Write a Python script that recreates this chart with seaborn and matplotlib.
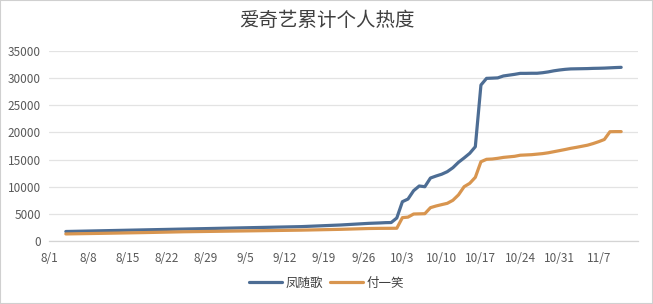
import matplotlib
matplotlib.use("Agg")
import matplotlib.pyplot as plt
from matplotlib.patches import Rectangle
import seaborn as sns
import pandas as pd

# ---- data ----
dates = [
    "8/4", "8/11", "8/18", "8/25", "9/1", "9/8", "9/15", "9/22", "9/27", "9/29",
    "9/30",
    "10/1", "10/2", "10/3", "10/4", "10/5", "10/6", "10/7", "10/8", "10/9", "10/10",
    "10/11", "10/12", "10/13", "10/14", "10/15", "10/16", "10/17", "10/18", "10/19", "10/20",
    "10/21", "10/22", "10/23", "10/24", "10/25", "10/26", "10/27", "10/28", "10/29", "10/30",
    "10/31", "11/1", "11/2", "11/3", "11/4", "11/5", "11/6", "11/7", "11/8", "11/9",
    "11/10", "11/11",
]
feng_sui_ge = [
    1750, 1900, 2050, 2200, 2350, 2500, 2650, 2950, 3250, 3330,
    3380,
    3400, 4240, 7240, 7730, 9270, 10130, 10000, 11600, 11970, 12300,
    12770, 13500, 14500, 15300, 16150, 17370, 28730, 29960, 30000, 30050,
    30400, 30550, 30700, 30880, 30880, 30900, 30900, 31000, 31150, 31350,
    31500, 31620, 31700, 31720, 31740, 31760, 31800, 31820, 31850, 31900,
    31950, 31990,
]
fu_yi_xiao = [
    1300, 1420, 1550, 1700, 1800, 1900, 2000, 2150, 2300, 2330,
    2335,
    2340, 2350, 4300, 4400, 4970, 5000, 5030, 6140, 6450, 6700,
    6940, 7500, 8500, 10000, 10620, 11730, 14600, 15050, 15100, 15230,
    15400, 15500, 15600, 15800, 15850, 15900, 16000, 16100, 16250, 16450,
    16650, 16850, 17070, 17250, 17450, 17650, 17950, 18300, 18700, 20130,
    20150, 20150,
]
series_names = ["凤随歌", "付一笑"]
colors = ["#4d6d94", "#d8954f"]
title = "爱奇艺累计个人热度"
tick_dates = ["8/1", "8/8", "8/15", "8/22", "8/29", "9/5", "9/12", "9/19",
              "9/26", "10/3", "10/10", "10/17", "10/24", "10/31", "11/7"]
y_ticks = [0, 5000, 10000, 15000, 20000, 25000, 30000, 35000]

def to_dt(s):
    return pd.to_datetime("2023/" + s, format="%Y/%m/%d")

dt = [to_dt(s) for s in dates]
df = pd.DataFrame({
    "date": dt * 2,
    "value": feng_sui_ge + fu_yi_xiao,
    "name": [series_names[0]] * len(dt) + [series_names[1]] * len(dt),
})

sns.set_theme(style="white")
plt.rcParams["font.family"] = ["Noto Sans CJK SC", "DejaVu Sans"]

fig = plt.figure(figsize=(6.53, 3.04), dpi=100)
ax = fig.add_axes([49 / 653, 1 - 241 / 304, (638 - 49) / 653, (241 - 51) / 304])

sns.lineplot(data=df, x="date", y="value", hue="name", palette=colors,
             hue_order=series_names, linewidth=2.3, ax=ax, legend=False)

ax.set_ylim(0, 35000)
ax.set_yticks(y_ticks)
ax.set_yticklabels([str(v) for v in y_ticks])
ax.set_xlim(to_dt("8/1"), to_dt("11/14"))
ax.set_xticks([to_dt(s) for s in tick_dates])
ax.set_xticklabels(tick_dates)
ax.set_xlabel("")
ax.set_ylabel("")

ax.yaxis.grid(True, color="#e3e3e3", linewidth=0.9)
ax.xaxis.grid(False)
for side in ["left", "right", "top"]:
    ax.spines[side].set_visible(False)
ax.spines["bottom"].set_color("#d4d4d4")
ax.spines["bottom"].set_linewidth(0.9)
ax.tick_params(axis="x", direction="out", length=4, color="#d4d4d4",
               labelsize=8.5, labelcolor="#595959", pad=4)
ax.tick_params(axis="y", length=0, labelsize=8.5, labelcolor="#595959", pad=6)

fig.text(0.5, 1 - 20 / 304, title, ha="center", va="center",
         fontsize=14, color="#3f3f3f")

handles = [plt.Line2D([], [], color=c, linewidth=2.3) for c in colors]
fig.legend(handles, series_names, loc="center", bbox_to_anchor=(0.5, 1 - 283 / 304),
           ncol=2, frameon=False, fontsize=9, handlelength=2.6,
           columnspacing=0.6, handletextpad=0.3, labelcolor="#404040")

fig.patches.append(Rectangle((0, 0), 1, 1, transform=fig.transFigure,
                             fill=False, edgecolor="#d0d0d0", linewidth=1.5))

fig.savefig("out.png", dpi=100)
